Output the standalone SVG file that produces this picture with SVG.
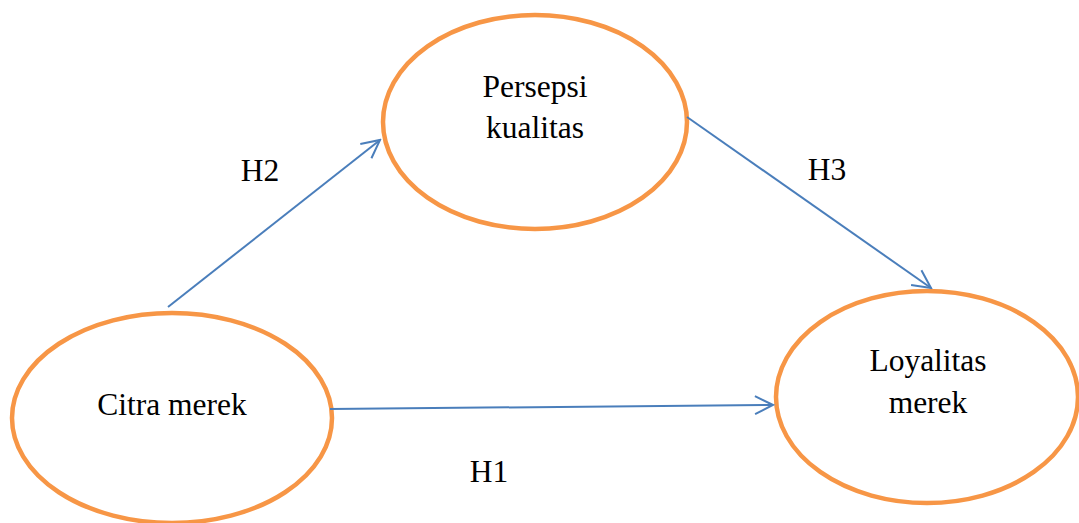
<svg xmlns="http://www.w3.org/2000/svg" width="1079" height="523" viewBox="0 0 1079 523">
<defs>
<style>
.node{fill:#fff;stroke:#F79646;stroke-width:4.5}
.lbl{font-family:"Liberation Serif","Times New Roman",serif;font-size:31.5px;fill:#000;text-anchor:middle}
.edge{stroke:#4A7EBB;stroke-width:2;fill:none}
</style>
<marker id="arr" markerUnits="userSpaceOnUse" viewBox="-20 -11 22 22" refX="0" refY="0" markerWidth="22" markerHeight="22" orient="auto">
<path d="M-18,-9 L0,0 L-18,9" fill="none" stroke="#4A7EBB" stroke-width="2"/>
</marker>
</defs>
<rect width="1079" height="523" fill="#fff"/>
<g id="persepsi">
<ellipse class="node" cx="535" cy="122" rx="152" ry="107"/>
<text class="lbl" x="535" y="97">Persepsi</text>
<text class="lbl" x="535" y="138">kualitas</text>
</g>
<g id="citra">
<ellipse class="node" cx="172" cy="418" rx="160" ry="105"/>
<text class="lbl" x="172" y="415">Citra merek</text>
</g>
<g id="loyalitas">
<ellipse class="node" cx="927" cy="397" rx="151" ry="106"/>
<text class="lbl" x="928" y="371">Loyalitas</text>
<text class="lbl" x="928" y="413">merek</text>
</g>
<g id="connectors">
<line class="edge" x1="168" y1="307" x2="380" y2="140" marker-end="url(#arr)"/>
<line class="edge" x1="687" y1="117" x2="931" y2="288" marker-end="url(#arr)"/>
<line class="edge" x1="330" y1="409" x2="773" y2="405" marker-end="url(#arr)"/>
<text class="lbl" x="260" y="181">H2</text>
<text class="lbl" x="827" y="180">H3</text>
<text class="lbl" x="489" y="482">H1</text>
</g>
</svg>
